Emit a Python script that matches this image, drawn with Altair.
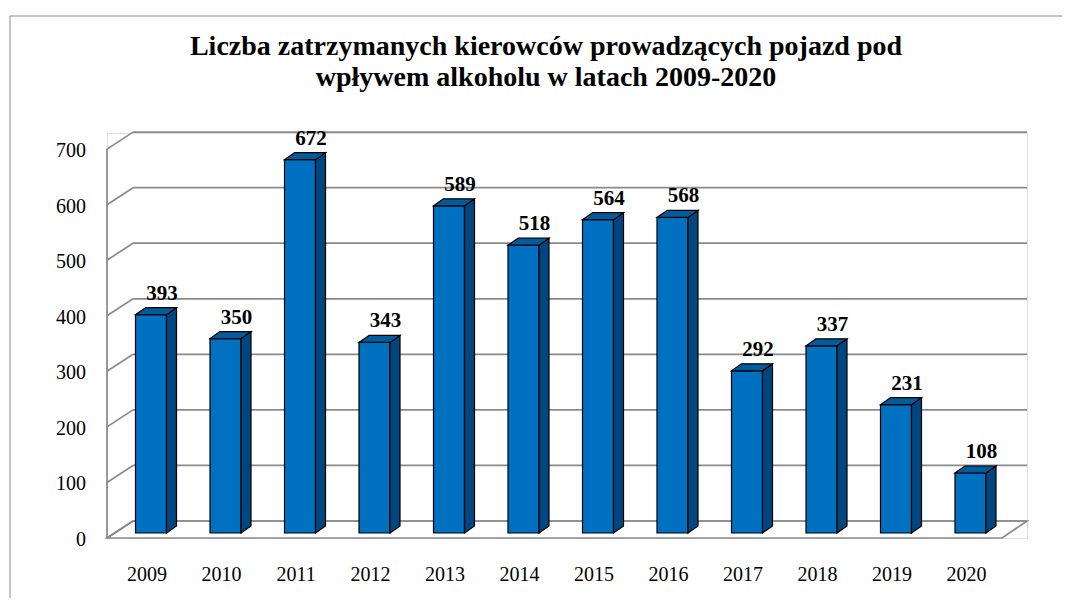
import altair as alt
import pandas as pd

# ---- data ----
years = [2009, 2010, 2011, 2012, 2013, 2014, 2015, 2016, 2017, 2018, 2019, 2020]
values = [393, 350, 672, 343, 589, 518, 564, 568, 292, 337, 231, 108]
y_ticks = [0, 100, 200, 300, 400, 500, 600, 700]
title_lines = ["Liczba zatrzymanych kierowców prowadzących pojazd pod",
               "wpływem alkoholu w latach 2009-2020"]

# ---- layout / style constants (pseudo-3D geometry) ----
PLOT_W, PLOT_H = 920, 405
SLOT_PX = 74.5                     # pixel width of one category slot
X_MAX = PLOT_W / SLOT_PX
Y_MAX = 729
PX_PER_V = PLOT_H / Y_MAX


def xu(px):
    return px / SLOT_PX


def yu(px):
    return px / PX_PER_V


WALL_DX, WALL_DY = xu(26), yu(17)
BAR_DX, BAR_DY = xu(10), yu(7)
HALF = xu(15.5)
FIRST = xu(44)
BASE = yu(5)
FLOOR_FRONT_END = xu(895)

FONT = "Liberation Serif"
GRID = "#8a8a8a"
FRONT = "#0070C0"
SIDE = "#00467F"
TOP = "#005C9E"

xs = alt.Scale(domain=[0, X_MAX], nice=False, zero=False)
ys = alt.Scale(domain=[0, Y_MAX], nice=False, zero=False)

# ---- derived tables ----
bars = pd.DataFrame({"year": [str(y) for y in years], "value": values})
bars["c"] = [FIRST + i for i in range(len(years))]
bars["x0"] = bars["c"] - HALF
bars["x1"] = bars["c"] + HALF
bars["y0"] = BASE
bars["y1"] = BASE + bars["value"]

side_rows, top_rows = [], []
for _, r in bars.iterrows():
    side_rows.append({"year": r.year, "x": r.x1, "lo": r.y0, "hi": r.y1})
    side_rows.append({"year": r.year, "x": r.x1 + BAR_DX, "lo": r.y0 + BAR_DY, "hi": r.y1 + BAR_DY})
    top_rows.append({"year": r.year, "y": r.y1, "l": r.x0, "r": r.x1})
    top_rows.append({"year": r.year, "y": r.y1 + BAR_DY, "l": r.x0 + BAR_DX, "r": r.x1 + BAR_DX})
side = pd.DataFrame(side_rows)
top = pd.DataFrame(top_rows)

grid = pd.DataFrame({"t": y_ticks})
grid["tb"] = grid["t"] + WALL_DY
grid["x0"] = 0.0
grid["xw"] = WALL_DX
grid["xe"] = X_MAX

floor = pd.DataFrame({"y": [0.0, WALL_DY], "l": [0.0, WALL_DX], "r": [FLOOR_FRONT_END, X_MAX]})

# ---- layers ----
floor_l = alt.Chart(floor).mark_area(orient="horizontal", fill="white", stroke=GRID, strokeWidth=1.7).encode(
    y=alt.Y("y:Q", scale=ys, axis=None),
    x=alt.X("l:Q", scale=xs, axis=None, stack=False),
    x2="r:Q",
)

back_grid = alt.Chart(grid).mark_rule(color=GRID, strokeWidth=1.7).encode(
    x=alt.X("xw:Q", scale=xs, axis=None), x2="xe:Q",
    y=alt.Y("tb:Q", scale=ys, axis=None),
)
wall_diag = alt.Chart(grid).mark_rule(color=GRID, strokeWidth=1.7).encode(
    x=alt.X("x0:Q", scale=xs, axis=None), x2="xw:Q",
    y=alt.Y("t:Q", scale=ys, axis=None), y2="tb:Q",
)
wall_front = alt.Chart(pd.DataFrame({"x": [0.0], "a": [0], "b": [max(y_ticks)]})).mark_rule(
    color=GRID, strokeWidth=1.7).encode(
    x=alt.X("x:Q", scale=xs, axis=None),
    y=alt.Y("a:Q", scale=ys, axis=None), y2="b:Q",
)
# y-axis tick labels (front wall positions)
y_labels = alt.Chart(grid).mark_text(font=FONT, fontSize=20, color="black", align="right",
                                     baseline="middle", dx=-21, dy=2).encode(
    x=alt.X("x0:Q", scale=xs, axis=None),
    y=alt.Y("t:Q", scale=ys, axis=None),
    text="t:Q",
)

side_l = alt.Chart(side).mark_area(orient="vertical", fill=SIDE, stroke="black", strokeWidth=1.2).encode(
    x=alt.X("x:Q", scale=xs, axis=None),
    y=alt.Y("lo:Q", scale=ys, axis=None, stack=False), y2="hi:Q",
    detail="year:N",
)
top_l = alt.Chart(top).mark_area(orient="horizontal", fill=TOP, stroke="black", strokeWidth=1.2).encode(
    y=alt.Y("y:Q", scale=ys, axis=None),
    x=alt.X("l:Q", scale=xs, axis=None, stack=False), x2="r:Q",
    detail="year:N",
)
front_l = alt.Chart(bars).mark_rect(fill=FRONT, stroke="black", strokeWidth=1.2).encode(
    x=alt.X("x0:Q", scale=xs, axis=None), x2="x1:Q",
    y=alt.Y("y1:Q", scale=ys, axis=None), y2="y0:Q",
)

value_l = alt.Chart(bars).mark_text(font=FONT, fontSize=21, fontWeight="bold", color="black",
                                    dx=11, dy=-21, baseline="middle").encode(
    x=alt.X("c:Q", scale=xs, axis=None),
    y=alt.Y("y1:Q", scale=ys, axis=None),
    text="value:Q",
)
year_l = alt.Chart(bars).mark_text(font=FONT, fontSize=20, color="black", dx=-4, baseline="middle").encode(
    x=alt.X("c:Q", scale=xs, axis=None),
    y=alt.value(PLOT_H + 37),
    text="year:N",
)

title_l = alt.Chart(alt.Data(values=[{}])).mark_text(
    font=FONT, fontSize=28, fontWeight="bold", color="black", lineHeight=31,
    align="center", baseline="alphabetic").encode(
    x=alt.value(439), y=alt.value(-78), text=alt.value(title_lines))

frame_top = alt.Chart(alt.Data(values=[{}])).mark_rule(color="#8a8a8a", strokeWidth=1).encode(
    x=alt.value(-97), x2=alt.value(PLOT_W + 35), y=alt.value(-117))
frame_left = alt.Chart(alt.Data(values=[{}])).mark_rule(color="#8a8a8a", strokeWidth=1).encode(
    x=alt.value(-97), y=alt.value(-117), y2=alt.value(PLOT_H + 60))

chart = alt.layer(
    frame_top, frame_left, title_l, floor_l, back_grid, wall_diag, wall_front, y_labels,
    front_l, side_l, top_l, value_l, year_l,
).properties(
    width=PLOT_W, height=PLOT_H,
    padding={"left": 99, "top": 125, "right": 35, "bottom": 60},
    autosize=alt.AutoSizeParams(type="none"),
).configure_view(stroke=None).configure(background="white")

chart.save("out.html", embed_options={"renderer": "svg", "actions": False})
